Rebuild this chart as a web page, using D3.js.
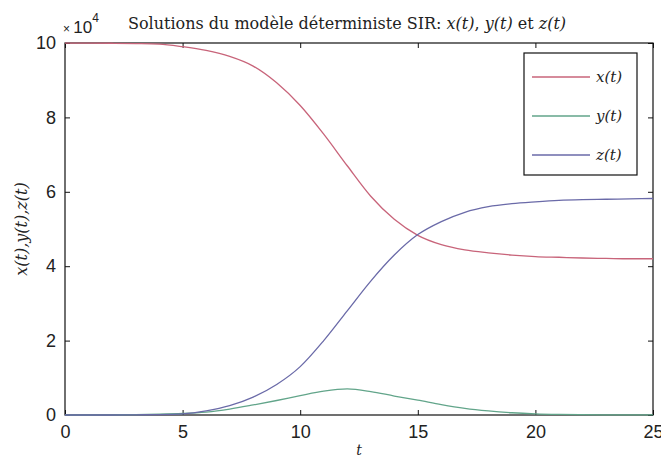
<!DOCTYPE html>
<html>
<head>
<meta charset="utf-8">
<script src="https://cdn.jsdelivr.net/npm/d3@7"></script>
<style>
  body { margin: 0; background: #fff; }
  .tick text { font-family: "Liberation Sans Narrow", "Liberation Sans", Arial, sans-serif; font-size: 18px; fill: #222; }
  .serif { font-family: "DejaVu Serif", "Liberation Serif", serif; fill: #222; }
</style>
</head>
<body>
<div id="chart"></div>
<script>
// temps t et solutions du modèle SIR (effectifs)
var tVals = [0, 1, 2, 3, 4, 5, 6, 7, 8, 9, 10, 11, 12, 13, 14, 15, 16, 17, 18, 19, 20, 21, 22, 23, 24, 25];
var xVals = [99990, 99980, 99930, 99850, 99700, 99000, 98000, 96400, 93800, 89300, 83200, 75500, 67000, 58800, 52600, 48300, 45800, 44400, 43600, 43000, 42600, 42400, 42200, 42100, 42000, 42000];
var yVals = [0, 0, 50, 100, 200, 400, 800, 1600, 2700, 3900, 5200, 6400, 7000, 6300, 5100, 4000, 2800, 1800, 1100, 600, 300, 150, 80, 40, 20, 10];
var zVals = [0, 0, 0, 50, 100, 300, 1100, 2500, 4800, 8200, 13000, 20000, 28000, 36000, 43000, 48500, 52000, 54500, 56000, 56800, 57300, 57700, 57900, 58000, 58100, 58200];

var xTicks = [0, 5, 10, 15, 20, 25];
var yTicks = [0, 20000, 40000, 60000, 80000, 100000];

var seriesNames = ["x", "y", "z"];
var seriesColors = ["#c8647a", "#62a58a", "#6a6aa8"];

var margin = {top: 43, right: 8, bottom: 44, left: 65},
    width = 661 - margin.left - margin.right,
    height = 459 - margin.top - margin.bottom;

var svg = d3.select("#chart")
    .append("svg")
    .attr("width", 661)
    .attr("height", 459)
    .append("g")
    .attr("transform", "translate(" + margin.left + "," + margin.top + ")");

var xScale = d3.scaleLinear().domain([0, 25]).range([0, width]);
var yScale = d3.scaleLinear().domain([0, 100000]).range([height, 0]);

// axes façon matlab : graduations vers l'intérieur
svg.append("g")
    .attr("class", "x axis")
    .attr("transform", "translate(0," + height + ")")
    .call(d3.axisBottom(xScale).tickValues(xTicks).tickSize(-5).tickPadding(10).tickFormat(d3.format("d")));

svg.append("g")
    .attr("class", "x axis top")
    .call(d3.axisTop(xScale).tickValues(xTicks).tickSize(-5).tickFormat(""));

svg.append("g")
    .attr("class", "y axis")
    .call(d3.axisLeft(yScale).tickValues(yTicks).tickSize(-5).tickPadding(9).tickFormat(function (d) { return d / 10000; }));

svg.append("g")
    .attr("class", "y axis right")
    .attr("transform", "translate(" + width + ",0)")
    .call(d3.axisRight(yScale).tickValues(yTicks).tickSize(-5).tickFormat(""));

svg.selectAll(".axis path.domain").remove();
svg.selectAll(".axis line").attr("stroke", "#111");

svg.append("rect")
    .attr("width", width)
    .attr("height", height)
    .attr("fill", "none")
    .attr("stroke", "#111")
    .attr("stroke-width", 1.2);

var line = d3.line()
    .curve(d3.curveMonotoneX)
    .x(function (d) { return xScale(d.t); })
    .y(function (d) { return yScale(d.v); });

[xVals, yVals, zVals].forEach(function (vals, i) {
    var pts = tVals.map(function (t, j) { return {t: t, v: vals[j]}; });
    svg.append("path")
        .attr("d", line(pts))
        .attr("fill", "none")
        .attr("stroke", seriesColors[i])
        .attr("stroke-width", 1.3);
});

// légende
var legend = svg.append("g").attr("transform", "translate(" + (524 - margin.left) + "," + (53 - margin.top) + ")");
legend.append("rect")
    .attr("width", 113)
    .attr("height", 122)
    .attr("fill", "#fff")
    .attr("stroke", "#111")
    .attr("stroke-width", 1.2);

seriesNames.forEach(function (name, i) {
    var yy = 24 + i * 39;
    legend.append("line")
        .attr("x1", 8).attr("x2", 66)
        .attr("y1", yy).attr("y2", yy)
        .attr("stroke", seriesColors[i])
        .attr("stroke-width", 1.3);
    legend.append("text")
        .attr("class", "serif")
        .attr("x", 72)
        .attr("y", yy + 5)
        .style("font-size", "15px")
        .style("font-style", "italic")
        .text(name + "(t)");
});

// titre
var title = svg.append("text")
    .attr("class", "serif")
    .attr("x", 128 - margin.left)
    .attr("y", 29 - margin.top)
    .style("font-size", "16px");
title.append("tspan").text("Solutions du modèle déterministe SIR: ");
title.append("tspan").style("font-style", "italic").text("x(t)");
title.append("tspan").text(", ");
title.append("tspan").style("font-style", "italic").text("y(t)");
title.append("tspan").text(" et ");
title.append("tspan").style("font-style", "italic").text("z(t)");

// exposant x 10^4
var expo = svg.append("text")
    .attr("x", -2)
    .attr("y", 33 - margin.top)
    .style("font-family", "Liberation Sans, Arial, sans-serif")
    .style("font-size", "17px")
    .attr("fill", "#222");
expo.append("tspan").style("font-size", "12px").text("× ");
expo.append("tspan").text("10");
expo.append("tspan").attr("dy", -11).style("font-size", "12px").text("4");

// étiquettes des axes
svg.append("text")
    .attr("class", "serif")
    .attr("x", width / 2)
    .attr("y", height + 40)
    .attr("text-anchor", "middle")
    .style("font-size", "14px")
    .style("font-style", "italic")
    .text("t");

svg.append("text")
    .attr("class", "serif")
    .attr("transform", "translate(" + (27 - margin.left) + "," + (height / 2) + ") rotate(-90)")
    .attr("text-anchor", "middle")
    .style("font-size", "16px")
    .style("font-style", "italic")
    .text("x(t),y(t),z(t)");
</script>
</body>
</html>
